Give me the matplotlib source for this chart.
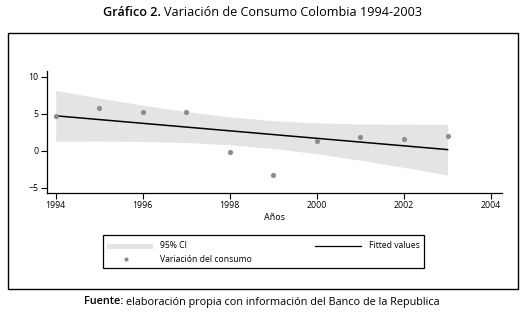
import numpy as np
import matplotlib
matplotlib.use("Agg")
import matplotlib.pyplot as plt
from matplotlib.patches import Rectangle
from matplotlib.lines import Line2D

years = [1994, 1995, 1996, 1997, 1998, 1999, 2000, 2001, 2002, 2003]
consumo = [4.7, 5.75, 5.2, 5.3, -0.2, -3.2, 1.4, 1.9, 1.65, 2.05]
xticks = [1994, 1996, 1998, 2000, 2002, 2004]
yticks = [-5, 0, 5, 10]

W, H = 529, 319
fig = plt.figure(figsize=(W / 100, H / 100), dpi=100)
plt.rcParams['font.family'] = ['Open Sans', 'DejaVu Sans']

def fx(px):
    return px / W

def fy(py):
    return 1 - py / H

# Outer frame
fig.patches.append(Rectangle((fx(8), fy(289)), fx(510), 256 / H, transform=fig.transFigure,
                             fill=False, edgecolor='black', linewidth=1.0))

ax = fig.add_axes([fx(47), fy(193), fx(502 - 47), (193 - 71) / H])

x = np.array(years, dtype=float)
y = np.array(consumo, dtype=float)
n = len(x)
b, a = np.polyfit(x, y, 1)
xs = x
yhat = a + b * xs
resid = y - (a + b * x)
s = np.sqrt(np.sum(resid ** 2) / (n - 2))
sxx = np.sum((x - x.mean()) ** 2)
se = s * np.sqrt(1 / n + (xs - x.mean()) ** 2 / sxx)
tcrit = 2.306
ax.fill_between(xs, yhat - tcrit * se, yhat + tcrit * se, color='#e3e4e6', linewidth=0)
ax.plot(xs, yhat, color='black', linewidth=1.1)
ax.scatter(x, y, s=14, color='#8c8c8c', marker='o', linewidths=0, zorder=3)

ax.set_xlim(1993.8, 2004.25)
ax.set_ylim(-5.7, 10.8)
ax.set_xticks(xticks)
ax.set_yticks(yticks)
ax.set_yticklabels(['\u22125', '0', '5', '10'])
for sp in ['top', 'right']:
    ax.spines[sp].set_visible(False)
for sp in ['left', 'bottom']:
    ax.spines[sp].set_linewidth(0.9)
ax.tick_params(direction='out', length=4, width=0.8, labelsize=6.3, pad=2)
ax.set_xlabel('Años', fontsize=6.5, labelpad=2)

# Legend box
fig.patches.append(Rectangle((fx(103), fy(268)), fx(424 - 103), 33 / H, transform=fig.transFigure,
                             fill=False, edgecolor='black', linewidth=0.9))
fig.patches.append(Rectangle((fx(107), fy(249)), fx(46), 5 / H, transform=fig.transFigure,
                             facecolor='#e3e4e6', edgecolor='none'))
fig.text(fx(160), fy(246), '95% CI', fontsize=6.2, va='center', ha='left')
fig.lines.append(Line2D([fx(315), fx(361)], [fy(246), fy(246)], transform=fig.transFigure,
                        color='black', linewidth=0.9))
fig.text(fx(369), fy(246), 'Fitted values', fontsize=6.2, va='center', ha='left')
fig.lines.append(Line2D([fx(126)], [fy(259)], transform=fig.transFigure, marker='o',
                        markersize=3, color='#8c8c8c', linestyle='none', markeredgewidth=0))
fig.text(fx(160), fy(259), 'Variación del consumo', fontsize=6.2, va='center', ha='left')

# Title
t1 = fig.text(fx(103), fy(13), 'Gráfico 2.', fontsize=9.1, fontweight='semibold', va='center', ha='left')
fig.canvas.draw()
bb = t1.get_window_extent()
fig.text(bb.x1 / W + 3 / W, fy(13), 'Variación de Consumo Colombia 1994-2003', fontsize=9.1,
         va='center', ha='left')

# Footer
t2 = fig.text(fx(84), fy(302), 'Fuente:', fontsize=7.8, fontweight='semibold', va='center', ha='left')
fig.canvas.draw()
bb2 = t2.get_window_extent()
fig.text(bb2.x1 / W + 3 / W, fy(302), 'elaboración propia con información del Banco de la Republica',
         fontsize=7.8, va='center', ha='left')

fig.savefig('out.png', dpi=100)
